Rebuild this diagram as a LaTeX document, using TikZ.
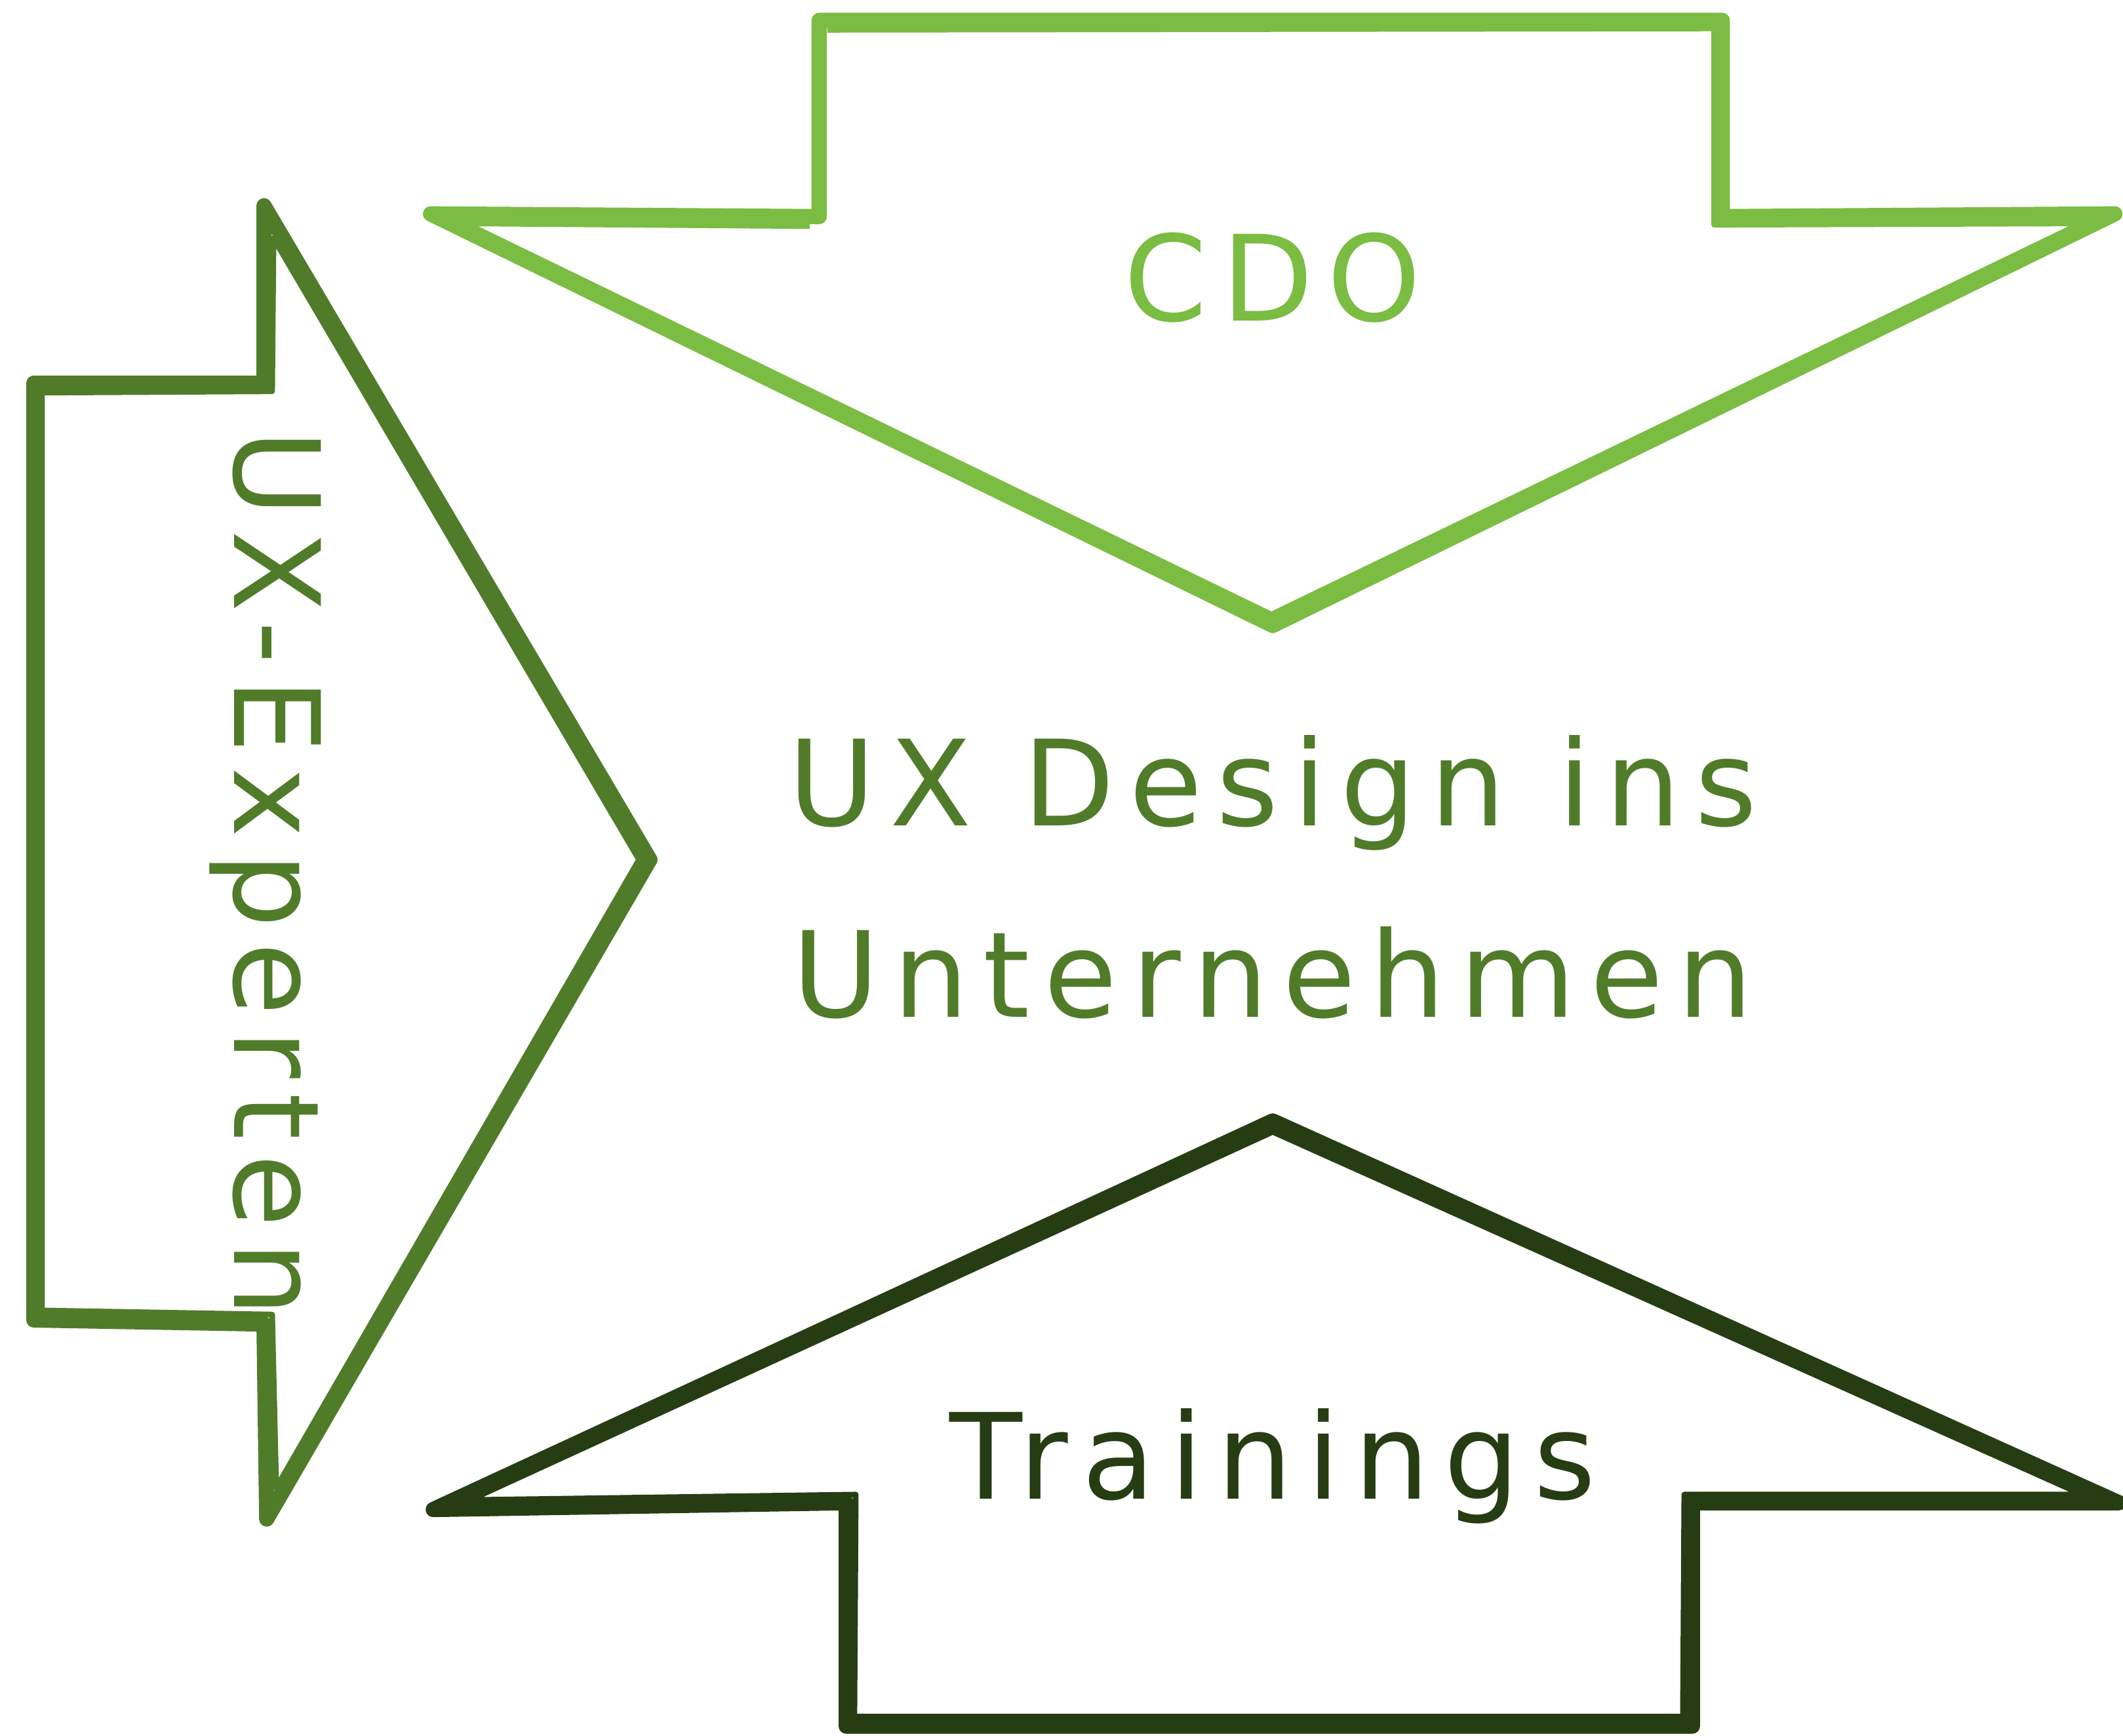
\documentclass[tikz,border=0pt]{standalone}
\usepackage{fontspec}
\setmainfont[LetterSpace=12]{DejaVu Sans}
\definecolor{lightgreen}{HTML}{7ABD42}
\definecolor{midgreen}{HTML}{507C2A}
\definecolor{darkgreen}{HTML}{263D13}
\tikzset{
  arrowline/.style={line width=3.2pt, line join=round},
  sketchline/.style={line width=1.2pt, line join=round},
  label/.style={font=\fontsize{25}{30}\selectfont, align=center}
}
\begin{document}
\begin{tikzpicture}[x=0.01cm, y=-0.01cm]
\useasboundingbox (0,0) rectangle (1568,1282);

% CDO arrow (top, pointing down)
\draw[arrowline, lightgreen] (605,15) -- (1272,15) -- (1272,160) -- (1562,158) -- (940,462) -- (318,158) -- (605,160) -- cycle;
\draw[sketchline, lightgreen] (611,22) -- (1266,21) -- (1266,166) -- (1537,165) -- (939,454) -- (344,165) -- (598,167);

% UX-Experten arrow (left, pointing right)
\draw[arrowline, midgreen] (25,283) -- (195,283) -- (195,152) -- (480,635) -- (197,1122) -- (195,978) -- (25,975) -- cycle;
\draw[sketchline, midgreen] (31,290) -- (201,289) -- (202,176) -- (472,635) -- (204,1099) -- (201,971) -- (31,968) -- cycle;

% Trainings arrow (bottom, pointing up)
\draw[arrowline, darkgreen] (625,1275) -- (625,1110) -- (320,1115) -- (940,828) -- (1565,1110) -- (1250,1110) -- (1250,1275) -- cycle;
\draw[sketchline, darkgreen] (631,1268) -- (632,1104) -- (347,1108) -- (940,836) -- (1538,1104) -- (1244,1104) -- (1243,1268) -- cycle;

% labels
\node[label, lightgreen] (cdo) at (940,205) {CDO};
\node[label, midgreen, rotate=-90] (experten) at (196,645) {UX-Experten};
\node[label, midgreen] (center) at (940,648) {UX Design ins\\[0.36cm]Unternehmen};
\node[label, darkgreen] (trainings) at (940,1083) {Trainings};

\end{tikzpicture}
\end{document}
